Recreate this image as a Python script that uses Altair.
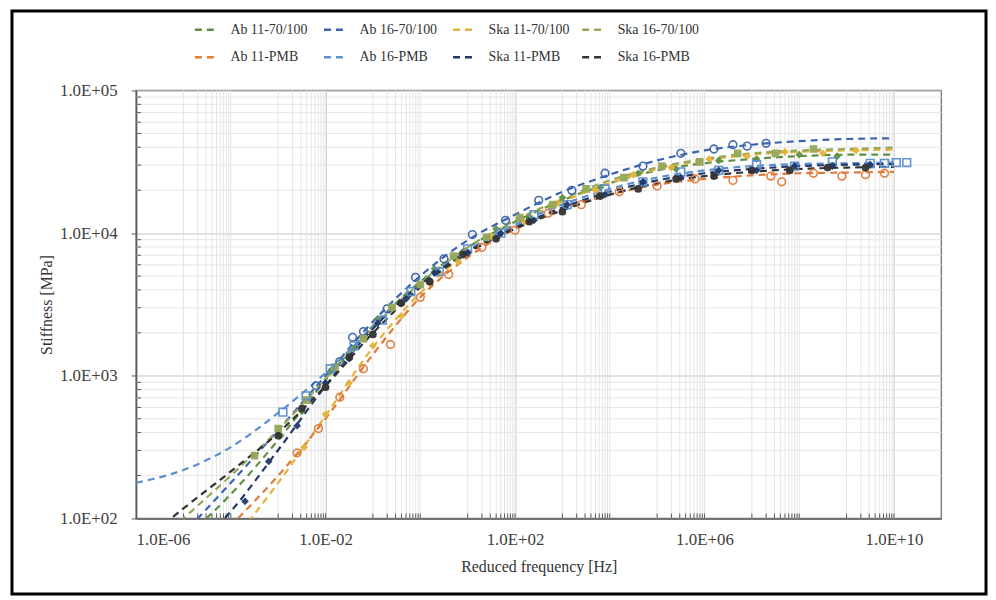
import altair as alt
import pandas as pd

# ---------------- data ----------------
series_names = ["Ab 11-70/100", "Ab 16-70/100", "Ska 11-70/100", "Ska 16-70/100",
                "Ab 11-PMB", "Ab 16-PMB", "Ska 11-PMB", "Ska 16-PMB"]
series_colors = ["#5E8F45", "#3B64AD", "#E3B33A", "#97A65A",
                 "#E07B39", "#5B8FD0", "#22386A", "#333333"]
series_shapes = ["diamond", "circle", "diamond", "square",
                 "circle", "square", "diamond", "circle"]
series_filled = [True, False, True, True, False, False, True, True]

# fitted master curves: log10(frequency) and log10(stiffness)
fit_logf = [-6, -5, -4, -3, -2, -1, 0, 1, 2, 3, 4, 5, 6, 7, 8, 9, 10]
fit_ab11_7070 = [1.55, 1.85, 2.17, 2.55, 2.97, 3.35, 3.66, 3.90, 4.08, 4.23, 4.35, 4.44, 4.49, 4.52, 4.54, 4.55, 4.55]
fit_ab16_7070 = [1.60, 1.90, 2.25, 2.62, 3.00, 3.38, 3.70, 3.95, 4.13, 4.29, 4.41, 4.51, 4.58, 4.62, 4.645, 4.66, 4.665]
fit_ska11_7070 = [1.00, 1.40, 1.82, 2.25, 2.72, 3.20, 3.58, 3.86, 4.06, 4.22, 4.35, 4.45, 4.51, 4.55, 4.57, 4.58, 4.585]
fit_ska16_7070 = [1.70, 2.00, 2.30, 2.62, 2.98, 3.34, 3.65, 3.90, 4.09, 4.24, 4.37, 4.46, 4.52, 4.56, 4.58, 4.59, 4.60]
fit_ab11_pmb = [1.30, 1.62, 1.95, 2.30, 2.70, 3.15, 3.55, 3.83, 4.03, 4.17, 4.27, 4.34, 4.38, 4.405, 4.42, 4.425, 4.43]
fit_ab16_pmb = [2.25, 2.34, 2.50, 2.74, 3.02, 3.34, 3.64, 3.88, 4.06, 4.20, 4.31, 4.39, 4.44, 4.47, 4.485, 4.49, 4.495]
fit_ska11_pmb = [1.45, 1.72, 2.05, 2.48, 2.93, 3.33, 3.64, 3.87, 4.04, 4.18, 4.29, 4.37, 4.42, 4.45, 4.47, 4.48, 4.485]
fit_ska16_pmb = [1.80, 2.07, 2.33, 2.60, 2.93, 3.30, 3.62, 3.86, 4.03, 4.16, 4.27, 4.35, 4.40, 4.43, 4.45, 4.46, 4.465]

# measured points: log10(frequency) and log10(stiffness)
mk_ab11_7070_f = [-2.95, -2.5, -1.9, -1.4, -0.9, -0.3, 0.3, 0.9, 1.6, 2.3, 3.0, 3.8, 4.6, 5.4, 6.3, 7.1, 8.0, 8.8]
mk_ab11_7070_E = [2.58, 2.75, 3.03, 3.19, 3.40, 3.56, 3.75, 3.87, 4.03, 4.11, 4.25, 4.32, 4.42, 4.45, 4.51, 4.52, 4.55, 4.54]
mk_ab16_7070_f = [-2.2, -1.7, -1.43, -1.2, -0.7, -0.1, 0.5, 1.1, 1.8, 2.5, 3.2, 3.9, 4.7, 5.5, 6.2, 6.6, 6.9, 7.3]
mk_ab16_7070_E = [2.93, 3.10, 3.27, 3.31, 3.47, 3.69, 3.82, 3.99, 4.09, 4.23, 4.30, 4.42, 4.47, 4.56, 4.59, 4.62, 4.61, 4.63]
mk_ska11_7070_f = [-2.45, -2.0, -1.5, -1.0, -0.4, 0.2, 0.8, 1.5, 2.2, 2.9, 3.7, 4.5, 5.3, 6.1, 6.9, 7.7, 8.5, 9.2]
mk_ska11_7070_E = [2.50, 2.73, 2.95, 3.21, 3.42, 3.65, 3.80, 3.98, 4.08, 4.21, 4.30, 4.41, 4.46, 4.52, 4.54, 4.57, 4.56, 4.58]
mk_ska16_7070_f = [-3.5, -3.0, -2.4, -1.8, -1.2, -0.6, 0.0, 0.7, 1.4, 2.1, 2.8, 3.5, 4.3, 5.1, 5.9, 6.7, 7.5, 8.3]
mk_ska16_7070_E = [2.44, 2.63, 2.83, 3.06, 3.26, 3.48, 3.64, 3.84, 3.97, 4.11, 4.20, 4.31, 4.39, 4.47, 4.50, 4.56, 4.56, 4.59]
mk_ab11_pmb_f = [-2.6, -2.15, -1.7, -1.2, -0.63, 0.0, 0.6, 1.3, 2.0, 2.7, 3.4, 4.2, 5.0, 5.8, 6.6, 7.4, 7.63, 8.3, 8.9, 9.4, 9.8]
mk_ab11_pmb_E = [2.46, 2.63, 2.85, 3.05, 3.22, 3.55, 3.71, 3.90, 4.02, 4.14, 4.20, 4.29, 4.33, 4.38, 4.37, 4.40, 4.36, 4.42, 4.40, 4.41, 4.42]
mk_ab16_pmb_f = [-2.9, -2.41, -1.9, -1.4, -0.8, -0.2, 0.4, 1.0, 1.7, 2.4, 3.1, 3.9, 4.7, 5.5, 6.3, 7.1, 7.9, 8.7, 9.5, 9.8, 10.05, 10.27]
mk_ab16_pmb_E = [2.745, 2.86, 3.05, 3.21, 3.39, 3.59, 3.73, 3.89, 4.00, 4.13, 4.20, 4.31, 4.36, 4.43, 4.44, 4.48, 4.47, 4.50, 4.49, 4.49, 4.495, 4.495]
mk_ska11_pmb_f = [-3.7, -3.2, -2.6, -2.0, -1.5, -0.9, -0.3, 0.3, 1.0, 1.7, 2.4, 3.1, 3.9, 4.7, 5.5, 6.3, 7.1, 7.9, 8.7, 9.5]
mk_ska11_pmb_E = [2.12, 2.40, 2.65, 2.95, 3.12, 3.37, 3.54, 3.72, 3.86, 4.00, 4.09, 4.20, 4.27, 4.36, 4.39, 4.44, 4.44, 4.47, 4.47, 4.48]
mk_ska16_pmb_f = [-3.0, -2.5, -2.0, -1.5, -1.0, -0.4, 0.2, 0.9, 1.6, 2.3, 3.0, 3.8, 4.6, 5.4, 6.2, 7.0, 7.8, 8.6, 9.4]
mk_ska16_pmb_E = [2.58, 2.77, 2.92, 3.13, 3.29, 3.51, 3.66, 3.85, 3.96, 4.08, 4.15, 4.26, 4.31, 4.38, 4.40, 4.44, 4.44, 4.46, 4.46]

# axis ticks / grid
x_major = [1e-6, 1e-2, 1e2, 1e6, 1e10]
y_major = [1e2, 1e3, 1e4, 1e5]
x_minor_decades = [-5, -3, -1, 1, 3, 5, 7, 9]
y_minor_decades = [2, 3, 4]
minor_mult = [1, 2, 3, 4, 5, 6, 7, 8, 9, 10]

# ---------------- build tables ----------------
fits = [fit_ab11_7070, fit_ab16_7070, fit_ska11_7070, fit_ska16_7070,
        fit_ab11_pmb, fit_ab16_pmb, fit_ska11_pmb, fit_ska16_pmb]
marks = [(mk_ab11_7070_f, mk_ab11_7070_E), (mk_ab16_7070_f, mk_ab16_7070_E),
         (mk_ska11_7070_f, mk_ska11_7070_E), (mk_ska16_7070_f, mk_ska16_7070_E),
         (mk_ab11_pmb_f, mk_ab11_pmb_E), (mk_ab16_pmb_f, mk_ab16_pmb_E),
         (mk_ska11_pmb_f, mk_ska11_pmb_E), (mk_ska16_pmb_f, mk_ska16_pmb_E)]

fit_rows, pt_rows = [], []
for i, name in enumerate(series_names):
    for k, lf in enumerate(fit_logf):
        fit_rows.append({"series": name, "order": k, "freq": 10.0 ** lf, "stiff": 10.0 ** fits[i][k]})
    fx, fy = marks[i]
    for lf, le in zip(fx, fy):
        pt_rows.append({"pseries": name, "freq": 10.0 ** lf, "stiff": 10.0 ** le})
fit_df = pd.DataFrame(fit_rows)
pt_df = pd.DataFrame(pt_rows)

minor_x = pd.DataFrame({"freq": [m * 10.0 ** d for d in x_minor_decades for m in minor_mult]})
minor_y = pd.DataFrame({"stiff": [m * 10.0 ** d for d in y_minor_decades for m in minor_mult[1:9]]})

W, H = 811, 431
FONT = "Liberation Serif"
label_expr = ("'1.0E' + (datum.value < 1 ? '-' : '+') + "
              "(abs(round(log(datum.value)/LN10)) < 10 ? '0' : '') + "
              "abs(round(log(datum.value)/LN10))")

xscale = alt.Scale(type="log", domain=[1e-6, 1e11], nice=False)
yscale = alt.Scale(type="log", domain=[1e2, 1e5], nice=False)
xaxis = alt.Axis(values=x_major, labelExpr=label_expr, title="Reduced frequency [Hz]",
                 grid=True, gridColor="#c4c4c4", gridWidth=1, ticks=False,
                 labelPadding=13, titlePadding=11, domainColor="#595959", domainWidth=1.5)
yaxis = alt.Axis(values=y_major, labelExpr=label_expr, title="Stiffness [MPa]",
                 grid=True, gridColor="#c4c4c4", gridWidth=1, tickSize=5, tickColor="#595959",
                 labelPadding=14, titlePadding=5, domainColor="#595959", domainWidth=1.5)


def X(field="freq"):
    return alt.X(f"{field}:Q", scale=xscale, axis=xaxis)


def Y(field="stiff"):
    return alt.Y(f"{field}:Q", scale=yscale, axis=yaxis)


grid_v = alt.Chart(minor_x).mark_rule(color="#e6e6e6", strokeWidth=1).encode(x=X())
grid_h = alt.Chart(minor_y).mark_rule(color="#e6e6e6", strokeWidth=1).encode(y=Y())
tick_v = alt.Chart(minor_x).mark_rule(color="#595959", strokeWidth=1).encode(
    x=X(), y=alt.value(H), y2=alt.value(H - 5))
tick_h = alt.Chart(minor_y).mark_rule(color="#595959", strokeWidth=1).encode(
    y=Y(), x=alt.value(0), x2=alt.value(5))

lines = alt.Chart(fit_df).mark_line(strokeDash=[7, 5], strokeWidth=2.2, clip=True,
                                   interpolate="monotone").encode(
    x=X(), y=Y(),
    order="order:Q",
    color=alt.Color("series:N", sort=series_names,
                    scale=alt.Scale(domain=series_names, range=series_colors),
                    legend=alt.Legend(title=None, orient="none", legendX=58, legendY=-73,
                                      columns=4, direction="horizontal", gridAlign="all",
                                      symbolType="stroke", symbolStrokeWidth=2.5,
                                      symbolDash=[7, 5], symbolSize=420,
                                      labelFont=FONT, labelFontSize=14, labelColor="#333333",
                                      labelOffset=14, columnPadding=6, rowPadding=9,
                                      labelLimit=200)),
)

# one marker layer per series, style fixed on the mark (no extra scales / legends)
point_layers = []
for i, name in enumerate(series_names):
    if series_filled[i]:
        mk = alt.Chart(pt_df).transform_filter(alt.datum.pseries == name).mark_point(
            filled=True, shape=series_shapes[i], color=series_colors[i],
            size=60, opacity=0.95, clip=True)
    else:
        mk = alt.Chart(pt_df).transform_filter(alt.datum.pseries == name).mark_point(
            filled=False, shape=series_shapes[i], color=series_colors[i],
            size=60, strokeWidth=1.6, opacity=0.95, clip=True)
    point_layers.append(mk.encode(x=X(), y=Y()))

frame = alt.Chart(pd.DataFrame({"a": [0]})).mark_rect(
    fill="transparent", stroke="black", strokeWidth=3).encode(
    x=alt.value(-125), x2=alt.value(856), y=alt.value(-80), y2=alt.value(507))

chart = alt.layer(grid_v, grid_h, tick_v, tick_h, lines, *point_layers, frame).properties(
    width=W, height=H,
    padding={"left": 129, "top": 81, "right": 47, "bottom": 78},
    autosize=alt.AutoSizeParams(type="none"),
    background="white",
).configure_view(stroke="#808080", strokeWidth=1.5).configure_axis(
    labelFont=FONT, labelFontSize=17, labelColor="#404040",
    titleFont=FONT, titleFontSize=16, titleColor="#333333", titleFontWeight="normal",
)

chart.save("out.html", embed_options={"renderer": "svg", "actions": False})
